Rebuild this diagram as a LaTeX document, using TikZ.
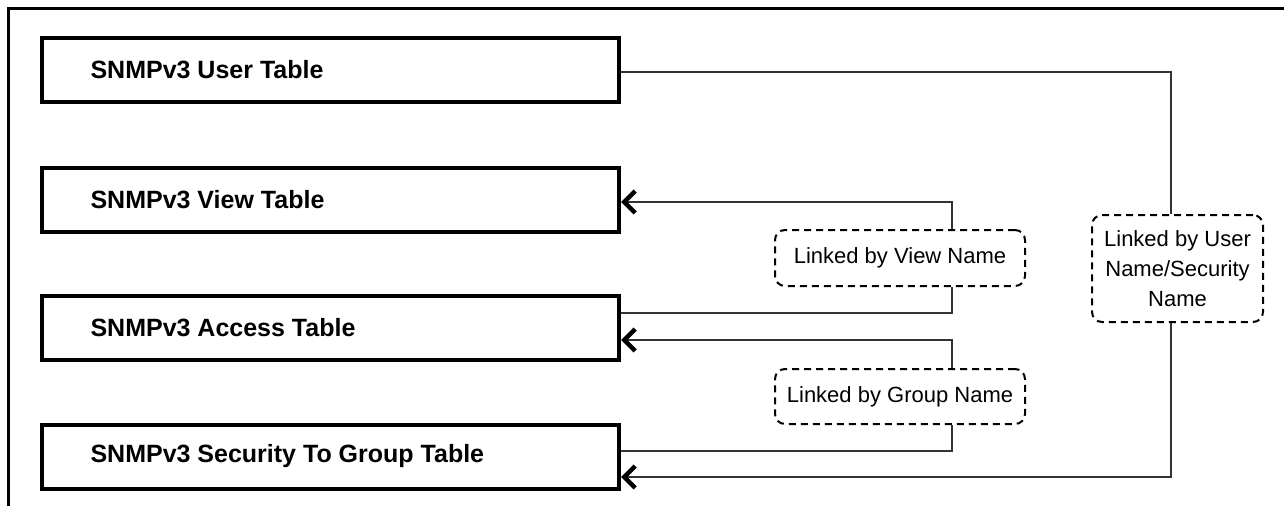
\documentclass[tikz,border=0pt]{standalone}
\usepackage{fontspec}
\setmainfont{Liberation Sans}
\usetikzlibrary{arrows.meta}
\begin{document}
\begin{tikzpicture}[x=1pt, y=-1pt,
		table/.style={draw, line width=4pt, minimum width=577pt, minimum height=64pt, inner sep=0pt},
		link/.style={draw, dashed, dash pattern=on 7pt off 5pt, line width=2pt, rounded corners=10pt, inner sep=0pt, align=center, font=\fontsize{22}{30}\selectfont},
		wire/.style={line width=1.4pt, black!80},
		barb/.style={-{Straight Barb[length=11pt, width=22pt, line width=4.5pt, black]}}]
		\useasboundingbox (0,0) rectangle (1284,506);
		%frame
		\draw[line width=2.5pt] (8.5,506) -- (8.5,8.5) -- (1284,8.5);
		
		%tables
		\node (user) at (330.5,70) [table]{};
		\node (view) at (330.5,199.5) [table]{};
		\node (access) at (330.5,328) [table]{};
		\node (secgrp) at (330.5,456.5) [table]{};
		\foreach \n/\t in {user/SNMPv3 User Table, view/SNMPv3 View Table, access/SNMPv3 Access Table, secgrp/SNMPv3 Security To Group Table}{
			\node[anchor=west, font=\bfseries\fontsize{25}{30}\selectfont] at ([xshift=47pt]\n.west) {\t};
		}
		
		%links
		\node (usrlink) at (1177.5,268.5) [link, minimum width=171pt, minimum height=107pt]{Linked by User\\Name/Security\\Name};
		\node (vwlink) at (900,258) [link, minimum width=250pt, minimum height=56pt]{Linked by View Name};
		\node (grplink) at (900,396.5) [link, minimum width=250pt, minimum height=55pt]{Linked by Group Name};
		
		\draw[wire] ([yshift=-2pt]user.east) -| ([xshift=-6.5pt]usrlink.north);
		\draw[wire, barb] ([xshift=-6.5pt]usrlink.south) |- ([yshift=-20.5pt]secgrp.east);
		\draw[wire, barb] ([xshift=52pt]vwlink.north) |- ([yshift=-2.5pt]view.east);
		\draw[wire] ([xshift=52pt]vwlink.south) |- ([yshift=15pt]access.east);
		\draw[wire, barb] ([xshift=52pt]grplink.north) |- ([yshift=-12pt]access.east);
		\draw[wire] ([xshift=52pt]grplink.south) |- ([yshift=5.5pt]secgrp.east);
\end{tikzpicture}
\end{document}
